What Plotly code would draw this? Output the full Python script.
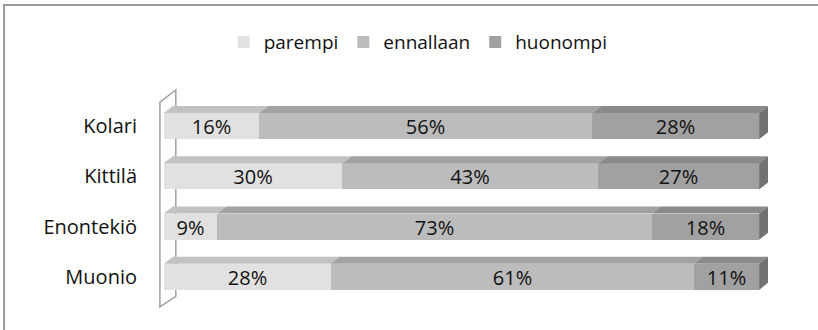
import plotly.graph_objects as go

# rows bottom -> top
kunnat = ["Muonio", "Enontekiö", "Kittilä", "Kolari"]
parempi = [28, 9, 30, 16]
ennallaan = [61, 73, 43, 56]
huonompi = [11, 18, 27, 28]

series = [
    ("parempi", parempi, "#e1e1e1", "#c2c2c2"),
    ("ennallaan", ennallaan, "#bcbcbc", "#a2a2a2"),
    ("huonompi", huonompi, "#a1a1a1", "#8a8a8a"),
]
side_color = "#727272"

bar_w = 0.52
half = bar_w / 2
dx, dy = 1.5, 0.14  # 3d depth in data units
pos = list(range(len(kunnat)))
font = "Open Sans, Noto Sans, sans-serif"

fig = go.Figure()

# front faces
for name, vals, front, top in series:
    fig.add_trace(go.Bar(
        name=name,
        y=pos,
        x=vals,
        orientation="h",
        width=bar_w,
        marker=dict(color=front, line=dict(width=0)),
        text=[f"{v}%" for v in vals],
        textposition="inside",
        insidetextanchor="middle",
        constraintext="none",
        textangle=0,
        textfont=dict(color="#111", size=20, family=font),
        hoverinfo="skip",
    ))

# top faces of every segment
start = [0] * len(kunnat)
for name, vals, front, top in series:
    xs, ys = [], []
    for i, v in enumerate(vals):
        a, b = start[i], start[i] + v
        yt = pos[i] + half
        xs += [a, b, b + dx, a + dx, a, None]
        ys += [yt, yt, yt + dy, yt + dy, yt, None]
        start[i] = b
    fig.add_trace(go.Scatter(
        x=xs, y=ys, mode="lines", fill="toself", fillcolor=top,
        line=dict(width=0, color=top), showlegend=False, hoverinfo="skip",
    ))

# right side faces
xs, ys = [], []
for i, end in enumerate(start):
    y0, y1 = pos[i] - half, pos[i] + half
    xs += [end, end, end + dx, end + dx, end, None]
    ys += [y0, y1, y1 + dy, y0 + dy, y0, None]
fig.add_trace(go.Scatter(
    x=xs, y=ys, mode="lines", fill="toself", fillcolor=side_color,
    line=dict(width=0, color=side_color), showlegend=False, hoverinfo="skip",
))

# left floor / wall outline
fig.add_shape(
    type="path", xref="x", yref="y", layer="below",
    path="M -0.67,3.48 L 2,3.72 L 2,-0.39 L -0.67,-0.6 Z",
    line=dict(color="#a0a0a0", width=1.5),
)

# chart frame
fig.add_shape(
    type="rect", xref="paper", yref="paper",
    x0=-0.239, x1=1.1, y0=-0.1, y1=1.3506,
    line=dict(color="#9a9a9a", width=2),
)

fig.update_layout(
    width=818,
    height=330,
    barmode="stack",
    bargap=0,
    plot_bgcolor="white",
    paper_bgcolor="white",
    margin=dict(l=152, r=47, t=86, b=13),
    font=dict(family=font, size=20, color="#111"),
    showlegend=True,
    legend=dict(
        orientation="h",
        x=0.43, xanchor="center",
        y=1.19, yanchor="middle",
        traceorder="normal",
        font=dict(size=19),
        itemwidth=30,
    ),
    xaxis=dict(
        range=[-2, 102],
        visible=False,
        fixedrange=True,
    ),
    yaxis=dict(
        range=[-0.8, 3.8],
        tickmode="array",
        tickvals=pos,
        ticktext=kunnat,
        showgrid=False,
        zeroline=False,
        showline=False,
        ticks="outside",
        ticklen=10,
        tickcolor="rgba(0,0,0,0)",
        tickfont=dict(size=20, family=font, color="#111"),
    ),
)

fig.write_html(
    "out.html",
    config={"displayModeBar": False},
    post_script="document.body.style.margin='0';",
)
